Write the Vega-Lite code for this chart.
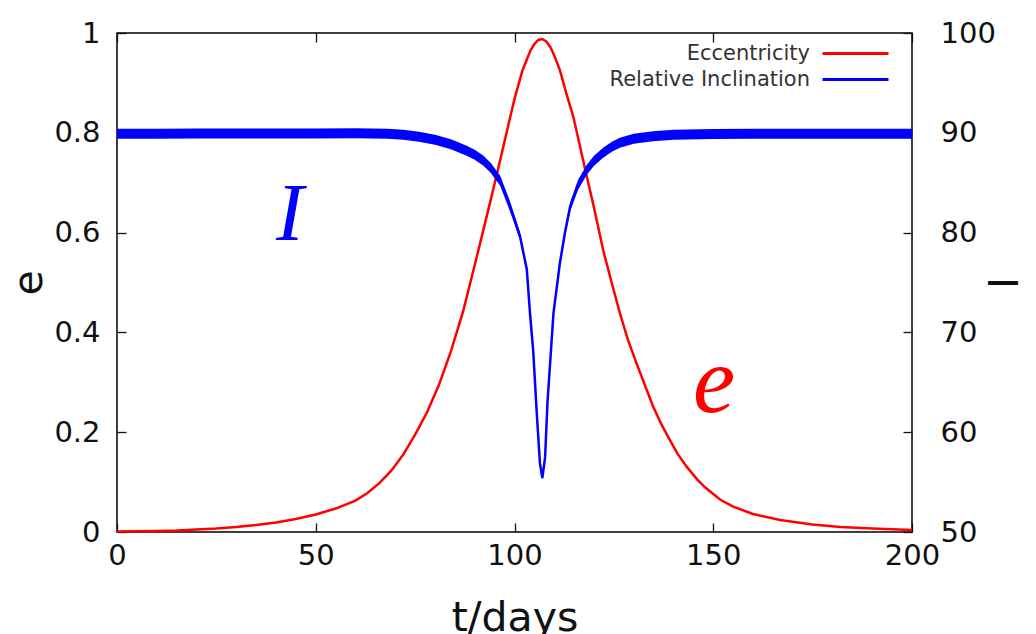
{
  "$schema": "https://vega.github.io/schema/vega-lite/v6.json",
  "width": 795,
  "height": 499,
  "autosize": {"type": "none"},
  "padding": {"left": 117, "top": 33, "right": 124, "bottom": 102},
  "background": "white",
  "config": {
    "view": {"stroke": "black", "strokeWidth": 1.5},
    "font": "DejaVu Sans",
    "axis": {
      "labelFont": "DejaVu Sans",
      "titleFont": "DejaVu Sans",
      "labelColor": "#111111",
      "titleColor": "#111111",
      "tickColor": "#111111",
      "tickWidth": 1.3,
      "tickSize": -9,
      "grid": false,
      "domain": false,
      "labelFlush": false,
      "labelFontSize": 29,
      "titleFontSize": 41,
      "titleFontWeight": "normal"
    },
    "legend": {
      "labelFont": "DejaVu Sans",
      "labelFontSize": 21,
      "labelColor": "#333333",
      "labelLimit": 0,
      "symbolType": "M-3,0H3",
      "symbolSize": 484,
      "symbolStrokeWidth": 3,
      "labelAlign": "right",
      "labelOffset": -58,
      "rowPadding": 3,
      "padding": 0
    }
  },
  "datasets": {
    "ecc": [
      {"t": 0, "e": 0.001}, {"t": 5, "e": 0.0015}, {"t": 10, "e": 0.002}, {"t": 15, "e": 0.003},
      {"t": 20, "e": 0.005}, {"t": 25, "e": 0.007}, {"t": 30, "e": 0.01}, {"t": 35, "e": 0.014},
      {"t": 40, "e": 0.019}, {"t": 45, "e": 0.026}, {"t": 50, "e": 0.035}, {"t": 55, "e": 0.047},
      {"t": 60, "e": 0.063}, {"t": 63, "e": 0.078}, {"t": 66, "e": 0.098}, {"t": 69, "e": 0.123},
      {"t": 72, "e": 0.155}, {"t": 75, "e": 0.195}, {"t": 78, "e": 0.24}, {"t": 81, "e": 0.295},
      {"t": 84, "e": 0.362}, {"t": 87, "e": 0.44}, {"t": 90, "e": 0.535}, {"t": 92, "e": 0.6},
      {"t": 94, "e": 0.665}, {"t": 96, "e": 0.732}, {"t": 98, "e": 0.8}, {"t": 100, "e": 0.868},
      {"t": 102, "e": 0.925}, {"t": 104, "e": 0.965}, {"t": 105, "e": 0.978}, {"t": 106, "e": 0.986},
      {"t": 107, "e": 0.988}, {"t": 108, "e": 0.983}, {"t": 109, "e": 0.972}, {"t": 110, "e": 0.955},
      {"t": 111.4, "e": 0.926}, {"t": 113, "e": 0.88}, {"t": 114.8, "e": 0.832}, {"t": 116.5, "e": 0.772},
      {"t": 118.2, "e": 0.712}, {"t": 120, "e": 0.65}, {"t": 122.3, "e": 0.565}, {"t": 124.5, "e": 0.498},
      {"t": 126.5, "e": 0.439}, {"t": 128.5, "e": 0.386}, {"t": 130.7, "e": 0.338}, {"t": 133, "e": 0.29},
      {"t": 134.9, "e": 0.251}, {"t": 137, "e": 0.215}, {"t": 139.1, "e": 0.184}, {"t": 141, "e": 0.157},
      {"t": 143.3, "e": 0.131}, {"t": 146, "e": 0.105}, {"t": 148, "e": 0.089}, {"t": 151.7, "e": 0.065},
      {"t": 155, "e": 0.051}, {"t": 160, "e": 0.036}, {"t": 166.8, "e": 0.024}, {"t": 175, "e": 0.015},
      {"t": 182, "e": 0.01}, {"t": 190, "e": 0.007}, {"t": 200, "e": 0.004}
    ],
    "inc": [
      {"t": 0, "I": 89.9, "lo": 89.4, "hi": 90.4}, {"t": 10, "I": 89.9, "lo": 89.4, "hi": 90.4},
      {"t": 20, "I": 89.92, "lo": 89.42, "hi": 90.42}, {"t": 30, "I": 89.94, "lo": 89.44, "hi": 90.44},
      {"t": 40, "I": 89.92, "lo": 89.42, "hi": 90.42}, {"t": 50, "I": 89.92, "lo": 89.42, "hi": 90.42},
      {"t": 60, "I": 89.95, "lo": 89.45, "hi": 90.45}, {"t": 68, "I": 89.9, "lo": 89.4, "hi": 90.4},
      {"t": 72, "I": 89.8, "lo": 89.3, "hi": 90.3}, {"t": 76, "I": 89.6, "lo": 89.1, "hi": 90.1},
      {"t": 80, "I": 89.3, "lo": 88.8, "hi": 89.8}, {"t": 84, "I": 88.85, "lo": 88.35, "hi": 89.35},
      {"t": 88, "I": 88.2, "lo": 87.7, "hi": 88.7}, {"t": 90, "I": 87.8, "lo": 87.3, "hi": 88.3},
      {"t": 92.2, "I": 87.2, "lo": 86.7, "hi": 87.7}, {"t": 94, "I": 86.5, "lo": 86.0, "hi": 87.0},
      {"t": 96.4, "I": 85.2, "lo": 84.7, "hi": 85.7}, {"t": 98.9, "I": 82.6, "lo": 82.1, "hi": 83.1},
      {"t": 100, "I": 81.3, "lo": 80.85, "hi": 81.75}, {"t": 101.4, "I": 79.6, "lo": 79.2, "hi": 80.0},
      {"t": 103.1, "I": 76.3, "lo": 76.0, "hi": 76.6}, {"t": 103.9, "I": 71.9, "lo": 71.6, "hi": 72.2},
      {"t": 104.7, "I": 68.2, "lo": 67.9, "hi": 68.5}, {"t": 105.6, "I": 61.9, "lo": 61.65, "hi": 62.15},
      {"t": 106.4, "I": 56.9, "lo": 56.7, "hi": 57.1}, {"t": 107, "I": 55.4, "lo": 55.3, "hi": 55.5},
      {"t": 107.7, "I": 57.5, "lo": 57.3, "hi": 57.7}, {"t": 108.3, "I": 63, "lo": 62.75, "hi": 63.25},
      {"t": 109.8, "I": 71.9, "lo": 71.6, "hi": 72.2}, {"t": 111.4, "I": 76.9, "lo": 76.55, "hi": 77.25},
      {"t": 112.7, "I": 80, "lo": 79.6, "hi": 80.4}, {"t": 114, "I": 82.6, "lo": 82.15, "hi": 83.05},
      {"t": 116, "I": 84.8, "lo": 84.3, "hi": 85.3}, {"t": 118.2, "I": 86.3, "lo": 85.8, "hi": 86.8},
      {"t": 120, "I": 87.2, "lo": 86.7, "hi": 87.7}, {"t": 122.3, "I": 88.0, "lo": 87.5, "hi": 88.5},
      {"t": 124.5, "I": 88.6, "lo": 88.1, "hi": 89.1}, {"t": 126.5, "I": 89.0, "lo": 88.5, "hi": 89.5},
      {"t": 130, "I": 89.4, "lo": 88.9, "hi": 89.9}, {"t": 134.9, "I": 89.65, "lo": 89.15, "hi": 90.15},
      {"t": 140, "I": 89.8, "lo": 89.3, "hi": 90.3}, {"t": 150, "I": 89.88, "lo": 89.38, "hi": 90.38},
      {"t": 160, "I": 89.9, "lo": 89.4, "hi": 90.4}, {"t": 170, "I": 89.9, "lo": 89.4, "hi": 90.4},
      {"t": 180, "I": 89.9, "lo": 89.4, "hi": 90.4}, {"t": 190, "I": 89.9, "lo": 89.4, "hi": 90.4},
      {"t": 200, "I": 89.9, "lo": 89.4, "hi": 90.4}
    ]
  },
  "layer": [
    {
      "data": {"name": "ecc"},
      "encoding": {
        "x": {
          "field": "t", "type": "quantitative",
          "scale": {"domain": [0, 200], "nice": false, "zero": false},
          "axis": {"orient": "bottom", "values": [0, 50, 100, 150, 200], "labelPadding": 18, "title": "t/days", "titlePadding": 28}
        },
        "y": {
          "field": "e", "type": "quantitative",
          "scale": {"domain": [0, 1], "nice": false},
          "axis": {"orient": "left", "values": [0, 0.2, 0.4, 0.6, 0.8, 1], "format": "~g", "labelPadding": 26, "title": "e", "titlePadding": 3}
        }
      },
      "layer": [
        {
          "mark": {"type": "line", "strokeWidth": 2.5},
          "encoding": {
            "color": {
              "datum": "Eccentricity", "type": "nominal",
              "scale": {"domain": ["Eccentricity", "Relative Inclination"], "range": ["#ff0000", "#0000ff"]},
              "legend": {"title": null, "orient": "none", "legendX": 726, "legendY": 8}
            }
          }
        },
        {
          "data": {"values": [{"t": 150.2, "e": 0.24, "label": "e"}]},
          "mark": {"type": "text", "font": "Liberation Serif", "fontStyle": "italic", "fontSize": 95, "color": "#ff0000", "align": "center", "baseline": "alphabetic"},
          "encoding": {"text": {"field": "label"}}
        }
      ]
    },
    {
      "data": {"name": "inc"},
      "encoding": {
        "x": {
          "field": "t", "type": "quantitative",
          "scale": {"domain": [0, 200], "nice": false, "zero": false},
          "axis": {"orient": "top", "values": [0, 50, 100, 150, 200], "labels": false, "title": null}
        },
        "y": {
          "field": "I", "type": "quantitative",
          "scale": {"domain": [50, 100], "nice": false, "zero": false},
          "axis": {"orient": "right", "values": [50, 60, 70, 80, 90, 100], "labelPadding": 37, "title": "I", "titlePadding": -17}
        }
      },
      "layer": [
        {
          "mark": {"type": "area", "color": "#0000ff", "opacity": 1},
          "encoding": {"y": {"field": "lo", "type": "quantitative"}, "y2": {"field": "hi"}}
        },
        {
          "mark": {"type": "line", "strokeWidth": 2.5},
          "encoding": {"color": {"datum": "Relative Inclination", "type": "nominal"}}
        },
        {
          "data": {"values": [{"t": 43.5, "I": 79.3, "label": "I"}]},
          "mark": {"type": "text", "font": "Liberation Serif", "fontStyle": "italic", "fontSize": 83, "color": "#0000ff", "align": "center", "baseline": "alphabetic"},
          "encoding": {"text": {"field": "label"}}
        }
      ]
    }
  ],
  "resolve": {"scale": {"x": "independent", "y": "independent"}}
}
